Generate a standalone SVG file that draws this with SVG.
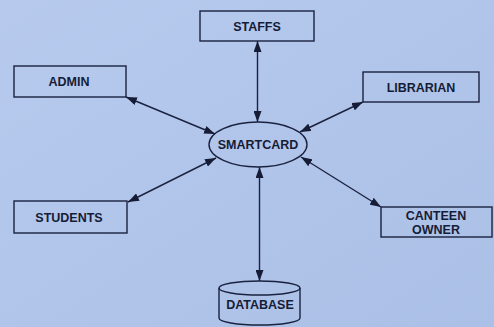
<svg xmlns="http://www.w3.org/2000/svg" width="494" height="327" viewBox="0 0 494 327">
  <defs>
    <linearGradient id="paper" x1="0" y1="0" x2="1" y2="1">
      <stop offset="0" stop-color="#b7caee"/>
      <stop offset="1" stop-color="#abc0e6"/>
    </linearGradient>
    <marker id="head" viewBox="0 0 11 8" refX="11" refY="4" markerWidth="11" markerHeight="8" markerUnits="userSpaceOnUse" orient="auto-start-reverse">
      <path d="M0,0 L11,4 L0,8 z" fill="#161c36"/>
    </marker>
  </defs>
  <style>
    .box { fill: none; stroke: #1a2240; stroke-width: 1.4; }
    .link { fill: none; stroke: #1a2240; stroke-width: 1.4; marker-start: url(#head); marker-end: url(#head); }
    .lbl { font-family: "Liberation Sans", Arial, sans-serif; font-weight: bold; font-size: 12.5px; fill: #161c36; text-anchor: middle; }
  </style>

  <rect width="494" height="327" fill="url(#paper)"/>

  <g id="connectors">
    <line class="link" x1="257.5" y1="41" x2="257.5" y2="122"/>
    <line class="link" x1="126" y1="97" x2="215" y2="134"/>
    <line class="link" x1="363" y1="102" x2="300" y2="132"/>
    <line class="link" x1="128" y1="202" x2="216" y2="158"/>
    <line class="link" x1="381" y1="207" x2="301" y2="157"/>
    <line class="link" x1="259.5" y1="167" x2="259.5" y2="281"/>
  </g>

  <g id="staffs">
    <rect class="box" x="200" y="11" width="114" height="30"/>
    <text class="lbl" x="257" y="30.5">STAFFS</text>
  </g>

  <g id="admin">
    <rect class="box" x="14" y="66" width="112" height="31"/>
    <text class="lbl" x="69" y="85.5">ADMIN</text>
  </g>

  <g id="librarian">
    <rect class="box" x="363" y="72" width="116" height="30"/>
    <text class="lbl" x="421" y="92">LIBRARIAN</text>
  </g>

  <g id="smartcard">
    <ellipse class="box" cx="258" cy="144.5" rx="49" ry="22.5"/>
    <text class="lbl" x="258" y="149">SMARTCARD</text>
  </g>

  <g id="students">
    <rect class="box" x="14" y="201" width="113" height="32"/>
    <text class="lbl" x="69" y="221.5">STUDENTS</text>
  </g>

  <g id="canteen-owner">
    <rect class="box" x="381" y="207" width="111" height="30"/>
    <text class="lbl" x="436" y="219.5">CANTEEN</text>
    <text class="lbl" x="436" y="233.5">OWNER</text>
  </g>

  <g id="database">
    <path class="box" d="M219,288 L219,318 A40.5,7 0 0 0 300,318 L300,288"/>
    <ellipse class="box" cx="259.5" cy="288" rx="40.5" ry="7"/>
    <text class="lbl" x="260" y="308.5">DATABASE</text>
  </g>
</svg>
